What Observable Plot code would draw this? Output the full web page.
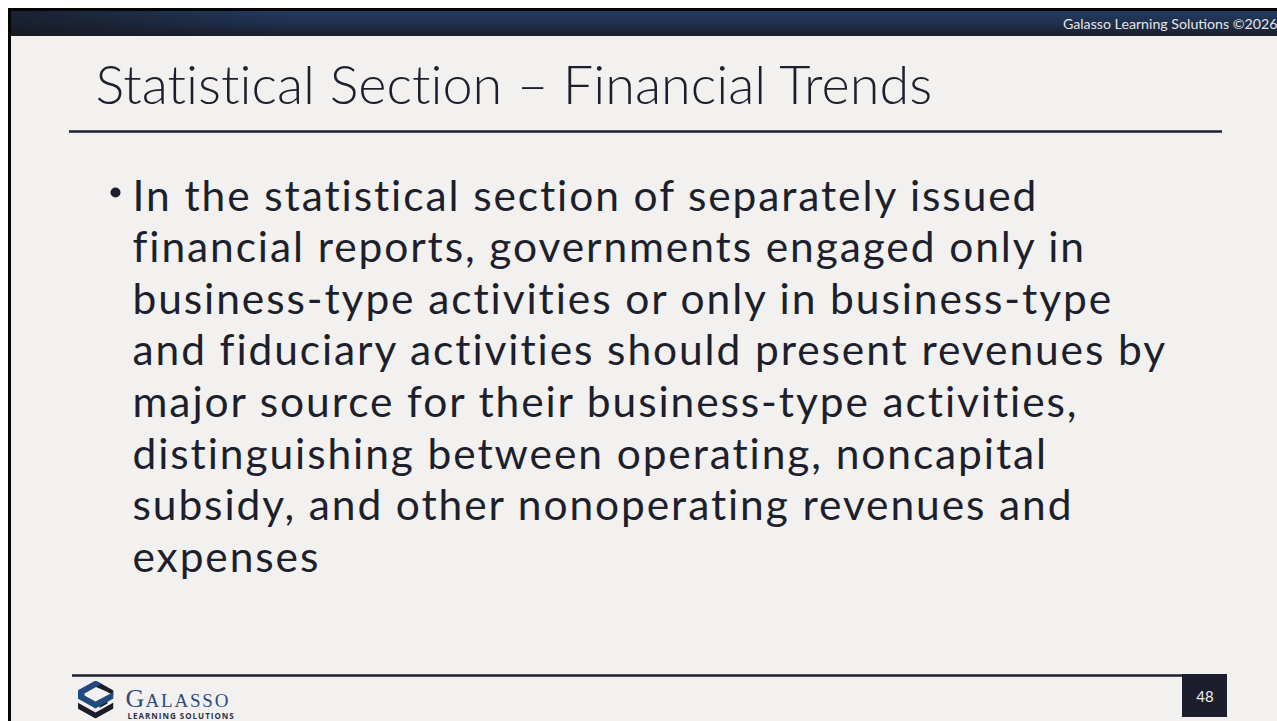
<!DOCTYPE html>
<html>
<head>
<meta charset="utf-8">
<script src="https://cdn.jsdelivr.net/npm/d3@7"></script>
<script src="https://cdn.jsdelivr.net/npm/@observablehq/plot@0.6"></script>
<style>
  html, body { margin: 0; padding: 0; background: #ffffff; }
  #chart svg { display: block; }
</style>
</head>
<body>
<div id="chart"></div>
<script>
// ---- content ----
const headerNote = ["Galasso Learning Solutions ©2026"];
const slideTitle = ["Statistical Section – Financial Trends"];
const bulletLines = [
  "In the statistical section of separately issued",
  "financial reports, governments engaged only in",
  "business-type activities or only in business-type",
  "and fiduciary activities should present revenues by",
  "major source for their business-type activities,",
  "distinguishing between operating, noncapital",
  "subsidy, and other nonoperating revenues and",
  "expenses"
];
const pageNumber = ["48"];
const logoWord = ["G", "ALASSO"];
const logoTagline = ["LEARNING SOLUTIONS"];

const W = 1277, H = 721;
const ink = "#1e1f2d";
const titleFont = "Lato, 'Open Sans', sans-serif";
const bodyFont = "Lato, 'Open Sans', sans-serif";
const bodySize = 42.5, bodyPitch = 51.6, firstBaseline = 210;

const logoSvg = `<svg xmlns='http://www.w3.org/2000/svg' viewBox='0 0 36 38'>
<path d='M20,1 L36,10 L36,15 L30,11.6 L14,4.5 Z' fill='#1b1d29'/>
<path d='M0,22 L18,32 L36,22 L36,28 L18,38 L0,28 Z' fill='#1b1d29'/>
<path d='M22,24 L30,19.5 L30,23 L22,27.5 Z' fill='#1b1d29'/>
<path d='M0,10 L18,0 L24,3.4 L7,13 L7,15 L18,21 L36,11.5 L36,18 L18,28 L0,18 Z' fill='#24497e'/>
</svg>`;
const logoSrc = "data:image/svg+xml;utf8," + encodeURIComponent(logoSvg);

function defs() {
  const svg = d3.create("svg:g");
  const d = svg.append("defs");
  const g1 = d.append("linearGradient").attr("id", "barGrad").attr("x1", 0).attr("y1", 0).attr("x2", 0).attr("y2", 1);
  g1.append("stop").attr("offset", "0%").attr("stop-color", "#223b61");
  g1.append("stop").attr("offset", "55%").attr("stop-color", "#1f2e4a");
  g1.append("stop").attr("offset", "100%").attr("stop-color", "#1b1d2b");
  const g2 = d.append("linearGradient").attr("id", "barShade").attr("x1", 0).attr("y1", 0).attr("x2", 1).attr("y2", 0);
  g2.append("stop").attr("offset", "0%").attr("stop-color", "#16171f").attr("stop-opacity", 0.7);
  g2.append("stop").attr("offset", "22%").attr("stop-color", "#16171f").attr("stop-opacity", 0);
  g2.append("stop").attr("offset", "100%").attr("stop-color", "#16171f").attr("stop-opacity", 0);
  return svg.node();
}

const chart = Plot.plot({
  width: W,
  height: H,
  margin: 0,
  x: {domain: [0, W], range: [0, W], axis: null},
  y: {domain: [0, H], range: [0, H], axis: null},
  style: {background: "#ffffff", overflow: "visible"},
  marks: [
    defs,
    // slide background
    Plot.rect([0], {x1: 8, x2: W, y1: 8, y2: H, fill: "#f2f1ef"}),
    // top bar
    Plot.rect([0], {x1: 8, x2: W, y1: 11, y2: 36, fill: "url(#barGrad)"}),
    Plot.rect([0], {x1: 8, x2: W, y1: 11, y2: 36, fill: "url(#barShade)"}),
    // slide border
    Plot.rect([0], {x1: 8, x2: W, y1: 8, y2: 11, fill: "#050505"}),
    Plot.rect([0], {x1: 8, x2: 11, y1: 8, y2: H, fill: "#050505"}),
    Plot.text(headerNote, {x: W, y: 28, text: d => d, textAnchor: "end", lineAnchor: "bottom",
      fill: "#e6e6e6", fontSize: 14.2, fontFamily: titleFont}),
    // title
    Plot.text(slideTitle, {x: 95, y: 103, text: d => d, textAnchor: "start", lineAnchor: "bottom",
      fill: ink, fontSize: 54, fontWeight: 300, fontFamily: titleFont}),
    Plot.ruleY([131], {x1: 69, x2: 1222, stroke: ink, strokeWidth: 2.5}),
    // bullet
    Plot.dot([0], {x: 115, y: 192, r: 5, fill: ink}),
    Plot.text([bulletLines.join("\n")], {
      x: 132, y: firstBaseline + (bulletLines.length - 1) * bodyPitch, text: d => d,
      textAnchor: "start", lineAnchor: "bottom", lineHeight: bodyPitch / bodySize,
      fill: ink, fontSize: bodySize, fontFamily: bodyFont}),
    // footer
    Plot.ruleY([675], {x1: 72, x2: 1226, stroke: ink, strokeWidth: 2.5}),
    Plot.rect([0], {x1: 1182, x2: 1227, y1: 674, y2: 717, fill: "#1c1e2d"}),
    Plot.text(pageNumber, {x: 1204.5, y: 701, text: d => d, lineAnchor: "bottom",
      fill: "#f2f2f2", fontSize: 15, fontFamily: bodyFont}),
    // logo
    Plot.image([0], {x: 95, y: 699, width: 36, height: 38, src: () => logoSrc, preserveAspectRatio: "none"}),
    Plot.text(logoWord.slice(0, 1), {x: 125, y: 706, text: d => d, textAnchor: "start", lineAnchor: "bottom",
      fill: "#2c4a7c", fontSize: 26, fontFamily: "'Liberation Serif', 'DejaVu Serif', serif"}),
    Plot.text(logoWord.slice(1), {x: 145, y: 706, text: d => d, textAnchor: "start", lineAnchor: "bottom",
      fill: "#2c4a7c", fontSize: 19, fontFamily: "'Liberation Serif', 'DejaVu Serif', serif"}),
    Plot.text(logoTagline, {x: 127, y: 718, text: d => d, textAnchor: "start", lineAnchor: "bottom",
      fill: "#2a3148", fontSize: 8, fontWeight: 700, fontFamily: "'Open Sans', sans-serif"})
  ]
});

const sel = d3.select(chart).selectAll("text");
sel.filter(function() { return this.textContent === "ALASSO"; }).style("letter-spacing", "1.8px");
sel.filter(function() { return this.textContent === "LEARNING SOLUTIONS"; }).style("letter-spacing", "1px");
sel.filter(function() { return this.textContent.startsWith("In the statistical"); })
  .style("letter-spacing", "1.9px").style("font-variant-ligatures", "none");
sel.filter(function() { return this.textContent.startsWith("Statistical Section"); })
  .style("font-variant-ligatures", "none");

document.getElementById("chart").appendChild(chart);
</script>
</body>
</html>
